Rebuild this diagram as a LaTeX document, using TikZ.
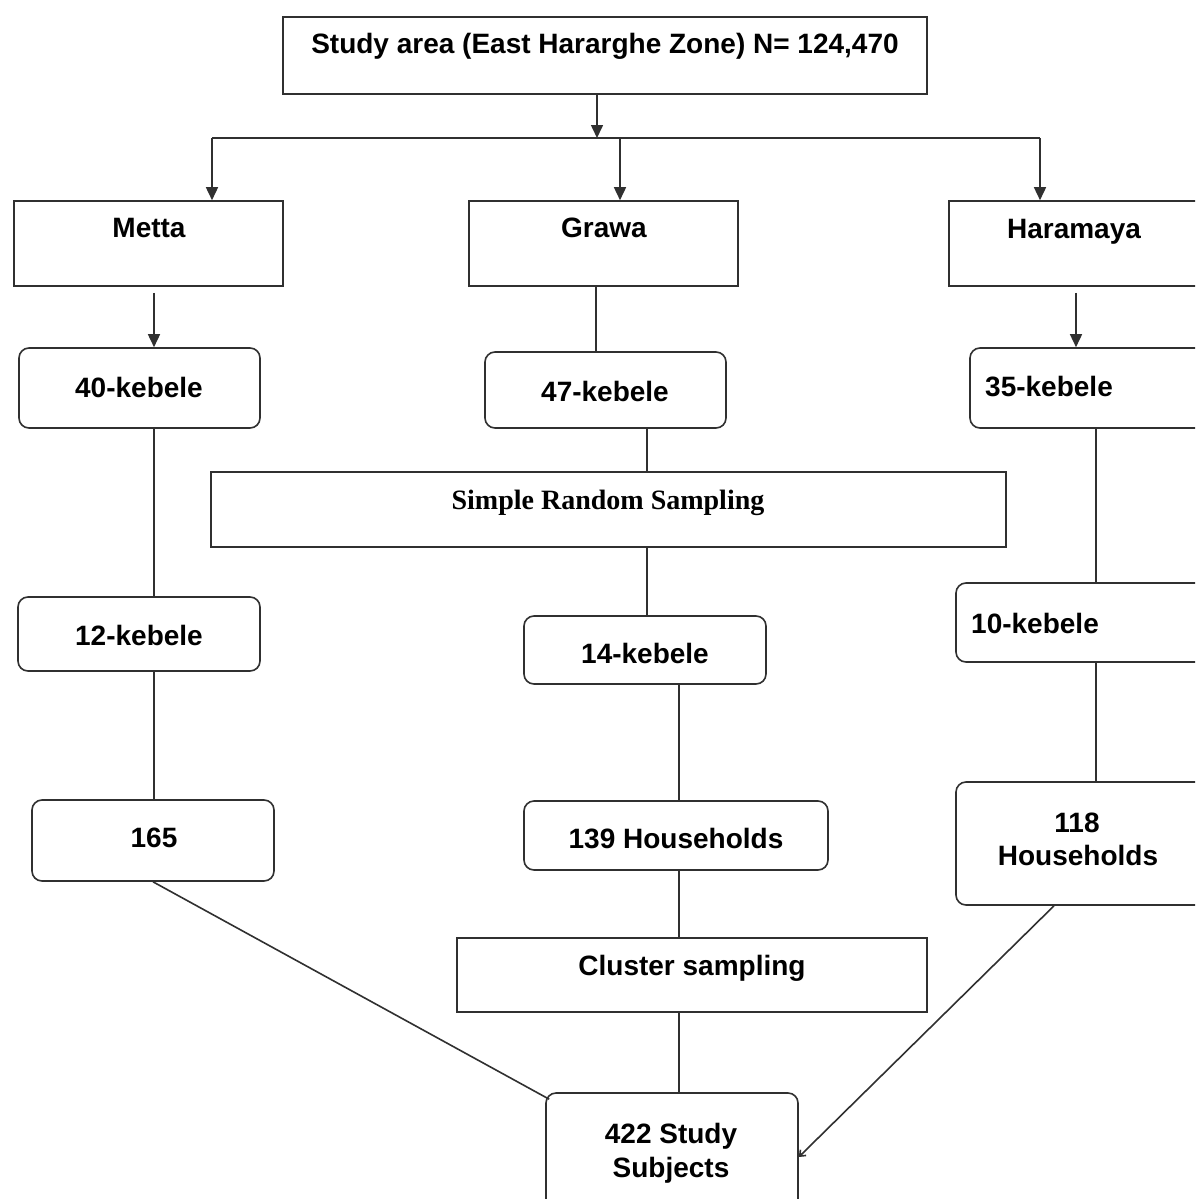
\documentclass[tikz,border=0pt]{standalone}
\usepackage{fontspec}
\setmainfont{Liberation Sans}
\newfontfamily\timesfont{Liberation Serif}
\usetikzlibrary{arrows.meta}
\definecolor{linec}{HTML}{303030}
\tikzset{
  sqbox/.style={draw=linec, line width=1.6pt, rectangle, inner sep=0pt},
  rdbox/.style={sqbox, rounded corners=10pt},
  lbl/.style={font=\fontsize{28}{33}\selectfont\bfseries, anchor=base, inner sep=0pt, align=center},
  lblw/.style={lbl, anchor=base west},
  wire/.style={draw=linec, line width=1.6pt},
  arr/.style={wire, -{Triangle[length=13pt,width=12pt]}},
  thinarr/.style={wire, -{Straight Barb[length=5pt,width=8pt]}}
}
\begin{document}
\begin{tikzpicture}[x=1pt,y=-1pt]
\useasboundingbox (0,0) rectangle (1195,1199);
\clip (0,0) rectangle (1195,1199);
\fill[white] (0,0) rectangle (1195,1199);

% ---- boxes ----
\node[sqbox, minimum width=644pt, minimum height=77pt] (top) at (605,55.5) {};
\node[sqbox, minimum width=269pt, minimum height=85pt] (metta) at (148.5,243.5) {};
\node[sqbox, minimum width=269pt, minimum height=85pt] (grawa) at (603.5,243.5) {};
\node[sqbox, minimum width=266pt, minimum height=85pt] (hara) at (1082,243.5) {};
\node[rdbox, minimum width=241pt, minimum height=80pt] (k40) at (139.5,388) {};
\node[rdbox, minimum width=241pt, minimum height=76pt] (k47) at (605.5,390) {};
\node[rdbox, minimum width=245pt, minimum height=80pt] (k35) at (1092.5,388) {};
\node[sqbox, minimum width=795pt, minimum height=75pt] (srs) at (608.5,509.5) {};
\node[rdbox, minimum width=242pt, minimum height=74pt] (k12) at (139,634) {};
\node[rdbox, minimum width=242pt, minimum height=68pt] (k14) at (645,650) {};
\node[rdbox, minimum width=259pt, minimum height=79pt] (k10) at (1085.5,622.5) {};
\node[rdbox, minimum width=242pt, minimum height=81pt] (n165) at (153,840.5) {};
\node[rdbox, minimum width=304pt, minimum height=69pt] (hh139) at (676,835.5) {};
\node[rdbox, minimum width=259pt, minimum height=123pt] (hh118) at (1085.5,843.5) {};
\node[sqbox, minimum width=470pt, minimum height=74pt] (clus) at (692,975) {};
\node[rdbox, minimum width=252pt, minimum height=128pt] (subj) at (672,1157) {};

% ---- labels ----
\node[lbl] (t-top) at (605,53) {Study area (East Hararghe Zone) N= 124,470};
\node[lbl] (t-metta) at (149,237) {Metta};
\node[lbl] (t-grawa) at (604,237) {Grawa};
\node[lbl] (t-hara) at (1074,238) {Haramaya};
\node[lbl] (t-k40) at (139,397) {40-kebele};
\node[lbl] (t-k47) at (605,401) {47-kebele};
\node[lblw] (t-k35) at (985,396) {35-kebele};
\node[lbl, font=\fontsize{28}{33}\selectfont\timesfont\bfseries] (t-srs) at (608,509) {Simple Random Sampling};
\node[lbl] (t-k12) at (139,645) {12-kebele};
\node[lbl] (t-k14) at (645,663) {14-kebele};
\node[lblw] (t-k10) at (971,633) {10-kebele};
\node[lbl] (t-165) at (154,847) {165};
\node[lbl] (t-139) at (676,848) {139 Households};
\node[lbl] (t-118a) at (1077,832) {118};
\node[lbl] (t-118b) at (1078,865) {Households};
\node[lbl] (t-clus) at (692,975) {Cluster sampling};
\node[lbl] (t-subja) at (671,1143) {422 Study};
\node[lbl] (t-subjb) at (671,1177) {Subjects};

% ---- branch from the study area to the three districts ----
\coordinate (split) at (597,138);
\coordinate (bl) at (212,138);
\coordinate (bm) at (620,138);
\coordinate (br) at (1040,138);
\draw[arr] (top.south -| split) -- (split);
\draw[wire] (bl) -- (br);
\draw[arr] (bl) -- (bl |- metta.north);
\draw[arr] (bm) -- (bm |- grawa.north);
\draw[arr] (br) -- (br |- hara.north);

% ---- vertical runs ----
\coordinate (mx) at (154,0);
\coordinate (gx) at (596,0);
\coordinate (gx2) at (647,0);
\coordinate (gx3) at (679,0);
\coordinate (hx) at (1076,0);
\coordinate (hx2) at (1096,0);

% Metta
\draw[arr] ([yshift=-6pt]metta.south -| mx) -- (k40.north -| mx);
\draw[wire] (k40.south -| mx) -- (k12.north -| mx);
\draw[wire] (k12.south -| mx) -- (n165.north -| mx);

% Grawa
\draw[wire] (grawa.south -| gx) -- (k47.north -| gx);
\draw[wire] (k47.south -| gx2) -- (srs.north -| gx2);
\draw[wire] (srs.south -| gx2) -- (k14.north -| gx2);
\draw[wire] (k14.south -| gx3) -- (hh139.north -| gx3);
\draw[wire] (hh139.south -| gx3) -- (clus.north -| gx3);
\draw[wire] (clus.south -| gx3) -- (subj.north -| gx3);

% Haramaya
\draw[arr] ([yshift=-6pt]hara.south -| hx) -- (k35.north -| hx);
\draw[wire] (k35.south -| hx2) -- (k10.north -| hx2);
\draw[wire] (k10.south -| hx2) -- (hh118.north -| hx2);

% ---- merging into the final sample ----
\draw[wire] (n165.south) -- ([shift={(4pt,-7pt)}]subj.north west);
\draw[thinarr] ([xshift=-31.5pt]hh118.south) -- (subj.east);
\end{tikzpicture}
\end{document}
